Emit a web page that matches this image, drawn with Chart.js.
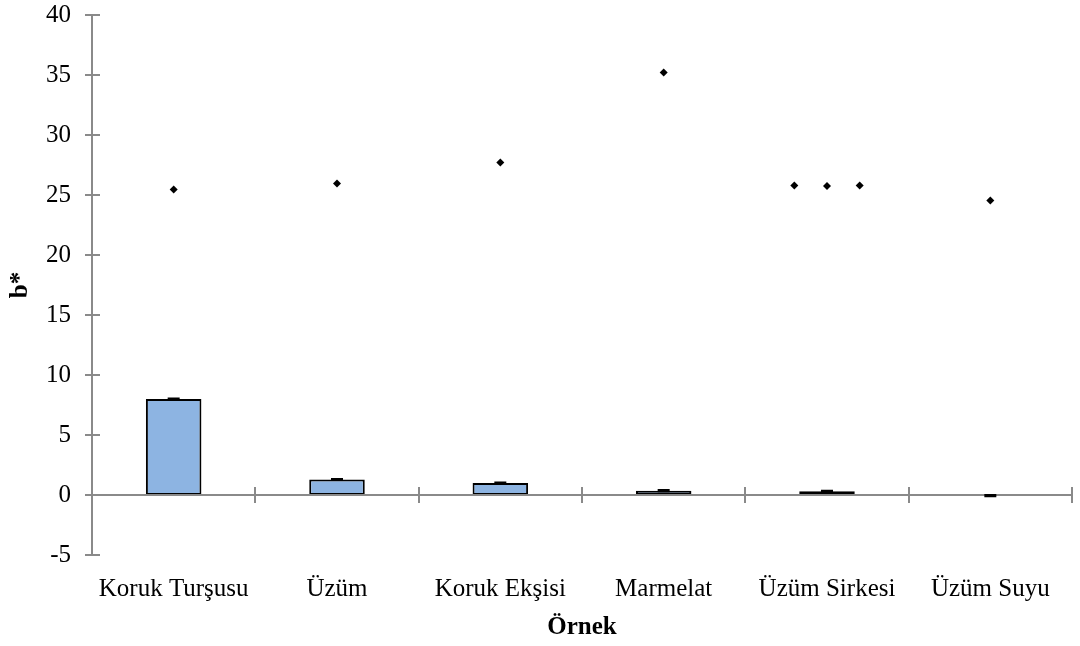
<!DOCTYPE html>
<html><head><meta charset="utf-8">
<script src="https://cdn.jsdelivr.net/npm/chart.js@4.4.0/dist/chart.umd.min.js"></script>
<style>html,body{margin:0;padding:0;background:#fff}</style>
</head><body>
<canvas id="c" width="1080" height="646"></canvas>
<script>
const categories = ['Koruk Turşusu','Üzüm','Koruk Ekşisi','Marmelat','Üzüm Sirkesi','Üzüm Suyu'];
const barValues = [8.0, 1.29, 1.0, 0.36, 0.31, -0.06];
const barErrors = [0.05, 0.05, 0.05, 0.05, 0.05, 0.05];
const pointX = [0, 1, 2, 3, 3.8, 4, 4.2, 5];
const pointY = [25.45, 25.95, 27.7, 35.2, 25.8, 25.75, 25.8, 24.55];
const yTickValues = [-5, 0, 5, 10, 15, 20, 25, 30, 35, 40];

const FONT = "'Times New Roman', 'Liberation Serif', serif";
const AXIS = '#8a8a8a';

const decor = {
  id: 'decor',
  beforeDatasetsDraw(chart) {
    const ctx = chart.ctx, y = chart.scales.y;
    const area = chart.chartArea;
    ctx.save();
    ctx.strokeStyle = AXIS; ctx.lineWidth = 2;
    yTickValues.forEach(v => {
      const py = Math.round(y.getPixelForValue(v));
      ctx.beginPath(); ctx.moveTo(area.left - 7, py); ctx.lineTo(area.left + 8, py); ctx.stroke();
    });
    ctx.restore();
  },
  afterDatasetsDraw(chart) {
    const ctx = chart.ctx, y = chart.scales.y, x = chart.scales.x;
    const area = chart.chartArea;
    ctx.save();
    ctx.strokeStyle = AXIS; ctx.lineWidth = 2;
    const y0 = Math.round(y.getPixelForValue(0));
    ctx.beginPath(); ctx.moveTo(area.left, y0); ctx.lineTo(area.right, y0); ctx.stroke();
    const n = categories.length;
    const step = x.getPixelForValue(1) - x.getPixelForValue(0);
    for (let i = 0; i <= n; i++) {
      const px = Math.round(x.getPixelForValue(0) + (i - 0.5) * step);
      ctx.beginPath(); ctx.moveTo(px, y0 - 8); ctx.lineTo(px, y0 + 8); ctx.stroke();
    }
    ctx.strokeStyle = '#000'; ctx.lineWidth = 2;
    barValues.forEach((v, i) => {
      const px = x.getPixelForValue(i);
      const hi = y.getPixelForValue(v + barErrors[i]);
      const lo = y.getPixelForValue(v - barErrors[i]);
      ctx.beginPath();
      ctx.moveTo(px, hi); ctx.lineTo(px, lo);
      ctx.moveTo(px - 6, hi); ctx.lineTo(px + 6, hi);
      ctx.moveTo(px - 6, lo); ctx.lineTo(px + 6, lo);
      ctx.stroke();
    });
    ctx.restore();
  }
};

new Chart(document.getElementById('c'), {
  type: 'bar',
  data: {
    labels: categories,
    datasets: [
      {
        label: 'b*',
        data: barValues,
        backgroundColor: '#8db4e2',
        borderColor: '#000',
        borderWidth: 2,
        borderSkipped: false,
        grouped: false,
        categoryPercentage: 1,
        barPercentage: 0.34,
        order: 2
      },
      {
        type: 'scatter',
        label: 'points',
        data: pointX.map((px, i) => ({ x: px, y: pointY[i] })),
        xAxisID: 'x2',
        pointStyle: 'rectRot',
        radius: 4,
        backgroundColor: '#000',
        borderColor: '#000',
        borderWidth: 0,
        clip: false,
        order: 1
      }
    ]
  },
  options: {
    responsive: false,
    animation: false,
    layout: { padding: { top: 0, right: 8, left: 0, bottom: 0 } },
    plugins: { legend: { display: false }, tooltip: { enabled: false } },
    scales: {
      x: {
        grid: { display: false, drawTicks: false },
        border: { display: false },
        ticks: { color: '#000', font: { family: FONT, size: 25 }, padding: 19, maxRotation: 0, autoSkip: false },
        title: { display: true, text: 'Örnek', color: '#000', font: { family: FONT, size: 25, weight: 'bold' }, padding: { top: 0, bottom: 3 } },
        afterFit(s) { s.height = 91; }
      },
      x2: {
        type: 'linear', position: 'top', min: -0.5, max: 5.5, offset: false,
        grid: { display: false, drawTicks: false },
        border: { display: false },
        ticks: { display: false },
        afterFit(s) { s.height = 0; }
      },
      y: {
        min: -5, max: 40,
        afterBuildTicks(s) { s.ticks = yTickValues.map(v => ({ value: v })); },
        grid: { display: false, drawTicks: true, tickLength: 21 },
        border: { display: true, color: AXIS, width: 2 },
        ticks: { color: '#000', font: { family: FONT, size: 25 }, padding: 0 },
        title: { display: true, text: 'b*', color: '#000', font: { family: FONT, size: 25, weight: 'bold' }, padding: { top: 6, bottom: 0 } },
        afterFit(s) { s.width = 92; }
      }
    }
  },
  plugins: [decor]
});
</script>
</body></html>
